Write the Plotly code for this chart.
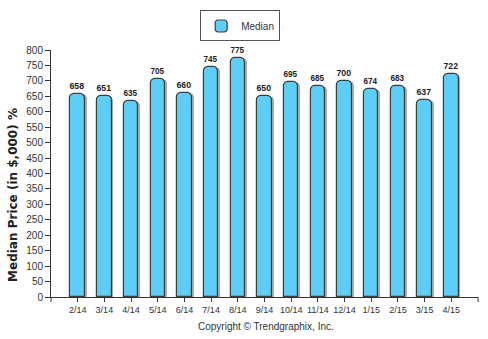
import plotly.graph_objects as go

months = ["2/14", "3/14", "4/14", "5/14", "6/14", "7/14", "8/14", "9/14",
          "10/14", "11/14", "12/14", "1/15", "2/15", "3/15", "4/15"]
median_price = [658, 651, 635, 705, 660, 745, 775, 650,
                695, 685, 700, 674, 683, 637, 722]
y_ticks = list(range(0, 801, 50))

x_idx = list(range(len(months)))
bar_w = 0.54

fig = go.Figure()

# soft gray shadow behind each bar
fig.add_trace(go.Bar(
    x=x_idx, y=median_price, width=bar_w, offset=-bar_w / 2 + 0.07,
    marker=dict(color="#a8a8a8", line=dict(width=0), cornerradius=5),
    showlegend=False, hoverinfo="skip",
))

fig.add_trace(go.Bar(
    x=x_idx, y=median_price, width=bar_w, offset=-bar_w / 2,
    name="Median",
    marker=dict(color="#5CCEF7", line=dict(color="#3c3c3c", width=1.2),
                cornerradius=5),
    texttemplate="<b>%{y}</b>", textposition="outside",
    textfont=dict(family="Liberation Sans", size=10, color="#222222"),
    cliponaxis=False,
))

fig.update_layout(
    width=488, height=339,
    margin=dict(l=51, r=10, t=48, b=42),
    paper_bgcolor="white", plot_bgcolor="white",
    barmode="overlay",
    font=dict(family="Liberation Sans", color="#444444"),
    showlegend=True,
    legend=dict(
        x=0.443, y=1.16, xanchor="center", yanchor="top",
        bordercolor="#555555", borderwidth=1, bgcolor="white",
        font=dict(family="Liberation Sans", size=10, color="#333333"),
        itemwidth=30, tracegroupgap=0,
    ),
    xaxis=dict(
        range=[-1, 15], tickmode="array", tickvals=x_idx, ticktext=months,
        tickangle=0,
        showline=True, linecolor="#333333", linewidth=1,
        ticks="outside", ticklen=4, tickcolor="#333333",
        tickfont=dict(family="Liberation Sans", size=9, color="#333333"),
        showgrid=False, zeroline=False, fixedrange=True,
    ),
    yaxis=dict(
        range=[0, 800], tickmode="array", tickvals=y_ticks,
        ticktext=[str(v) for v in y_ticks],
        showline=True, linecolor="#333333", linewidth=1,
        ticks="outside", ticklen=5, tickcolor="#333333",
        tickfont=dict(family="Liberation Sans", size=10, color="#333333"),
        showgrid=False, zeroline=False, fixedrange=True,
    ),
    bargap=0,
)

# end ticks on the category axis
for xp in (0, 1):
    fig.add_shape(type="line", xref="paper", yref="paper",
                  x0=xp, x1=xp, y0=0, y1=-0.02,
                  line=dict(color="#333333", width=1))

fig.add_annotation(
    text="<b>Median Price (in $,000) %</b>", textangle=-90,
    xref="paper", yref="paper", x=-0.088, y=0.415,
    xanchor="center", yanchor="middle", showarrow=False,
    font=dict(family="DejaVu Sans", size=12, color="#222222"),
)
fig.add_annotation(
    text="Copyright © Trendgraphix, Inc.",
    xref="paper", yref="paper", x=0.503, y=-0.088,
    xanchor="center", yanchor="top", showarrow=False,
    font=dict(family="Liberation Sans", size=10, color="#333333"),
)

fig.write_html("out.html")
